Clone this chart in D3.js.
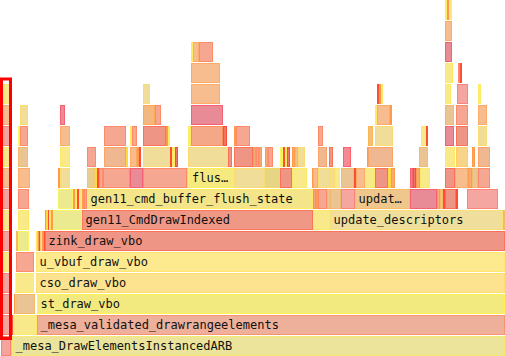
<!DOCTYPE html>
<html><head><meta charset="utf-8">
<script src="https://cdn.jsdelivr.net/npm/d3@7"></script>
<style>
html,body{margin:0;padding:0;background:#fff;overflow:hidden}
svg{display:block}
</style></head>
<body>
<svg id="chart" width="505" height="356"></svg>
<script>
// ---- data: frames per stack depth, [startSample, endSample, name] ----
const depth0 = [[1,11,""],[11,12,""],[12,505,"_mesa_DrawElementsInstancedARB"]];
const depth1 = [[1,11,""],[12,13,""],[13,37,""],[37,505,"_mesa_validated_drawrangeelements"]];
const depth2 = [[1,11,""],[14,15.5,""],[15.5,35,""],[37,505,"st_draw_vbo"]];
const depth3 = [[1,11,""],[15.5,34,""],[36,505,"cso_draw_vbo"]];
const depth4 = [[1,11,""],[16,34,""],[36,505,"u_vbuf_draw_vbo"]];
const depth5 = [[1,11,""],[16,18,""],[18,29,""],[36,37.5,""],[37.5,39,""],[39,40.5,""],[40.5,42,""],[42,43.5,""],[43.5,45,""],[45,505,"zink_draw_vbo"]];
const depth6 = [[1,11,""],[18,29,""],[45,46,""],[46,48,""],[48,49,""],[49,51,""],[51,53,""],[53,82,""],[82,313,"gen11_CmdDrawIndexed"],[313,330,""],[330,503,"update_descriptors"],[503,505,""]];
const depth7 = [[1,11,""],[18,29,""],[58,73,""],[73,75,""],[75,77,""],[77,79,""],[79,82,""],[82,84,""],[84,87,""],[87,313,"gen11_cmd_buffer_flush_state"],[313,316,""],[316,318,""],[318,327,""],[327,330,""],[330,341,""],[341,355,""],[355,410,"update_ubo_descriptors"],[410,437,""],[437,440,""],[440,443,""],[443,445,""],[445,456,""],[456,458,""],[467,498,""]];
const depth8 = [[1,11,""],[18,30,""],[58,60,""],[60,70,""],[87,95,""],[95,97,""],[97,99,""],[99,103,""],[103,130,""],[130,143,""],[143,187,""],[187,188.5,""],[188.5,234,"flush_descriptors"],[234,265,""],[265,280,""],[280,292,""],[292,307,""],[312,313,""],[313,318,""],[318,330,""],[330,335,""],[335,340,""],[341,354,""],[354,356,""],[356,365,""],[365,375,""],[375,388,""],[388,391,""],[391,395,""],[410,413,""],[413,416,""],[416,420,""],[420,430,""],[445,455,""],[455,468,""],[468,472,""],[472,478,""],[478,490,""]];
const depth9 = [[1,11,""],[18,28,""],[60,70,""],[87,96,""],[104,126,""],[126,128,""],[130,137,""],[137,139,""],[139,141,""],[143,170,""],[170,172,""],[172,175,""],[175,178,""],[188,228,""],[228,232,""],[234,253,""],[253,256,""],[256,259,""],[259,262,""],[265,268,""],[268,273,""],[280,283,""],[283,285,""],[285,287,""],[287,290,""],[292,295,""],[295,298,""],[298,305,""],[318,327,""],[329,333,""],[343,351,""],[367,368,""],[368,393,""],[419,428,""],[445,455,""],[456,468,""],[472,475,""],[478,490,""]];
const depth10 = [[1,11,""],[18,20,""],[20,28,""],[60,70,""],[104,126,""],[130,132,""],[132,137,""],[143,166,""],[166,168,""],[168,170,""],[188,191,""],[191,223,""],[223,227,""],[234,236,""],[236,250,""],[318,323,""],[368,373,""],[375,393,""],[421,426,""],[426,428,""],[445,454,""],[456,468,""],[478,487,""]];
const depth11 = [[1,11,""],[20,28,""],[60,65,""],[143,155,""],[155,161,""],[191,223,""],[375,377,""],[377,390,""],[390,392,""],[445,454,""],[456,468,""],[478,487,""]];
const depth12 = [[1,11,""],[143,150,""],[191,220,""],[377,379,""],[379,381,""],[381,383,""],[445,451,""],[457,468,""],[478,481,""]];
const depth13 = [[191,220,""],[445,453,""],[458,460,""],[460,462,""]];
const depth14 = [[191,193,""],[193,199,""],[199,213,""],[445,452,""]];
const depth15 = [[445,452,""]];
const depth16 = [[445,447,""],[447,449,""],[449,452,""]];
const depths = [depth0,depth1,depth2,depth3,depth4,depth5,depth6,depth7,depth8,depth9,depth10,depth11,depth12,depth13,depth14,depth15,depth16];
const sampleDomain = [0, 505];
const selectedFrame = {depthFrom: 1, depthTo: 12, start: 1, end: 11};

// ---- styles (kept separate from the data) ----
const palette = {
  Y:"#f8e98a", YG:"#ebea90", K:"#f0dd9a", KD:"#e6d584", KT:"#e8cd90", T:"#eac593", TS:"#efb890",
  TO:"#efc080", P:"#f8bd8e", P2:"#f5a888", PT:"#f2b880", S:"#f6a791", SR:"#ee9585", SP:"#f6a6a0",
  R:"#e98b97", RR:"#f58a92", O:"#f3ad78", RL:"#ee7564", YL:"#f5d869", YO:"#f8d488", PK:"#f4a49c"
};
const namedFill = {
  "_mesa_DrawElementsInstancedARB":"#ebe49a",
  "_mesa_validated_drawrangeelements":"#eeb09b",
  "st_draw_vbo":"#f2ea7e",
  "cso_draw_vbo":"#fde38f",
  "u_vbuf_draw_vbo":"#fdea8f",
  "zink_draw_vbo":"#ee9585",
  "gen11_CmdDrawIndexed":"#ef9886",
  "gen11_cmd_buffer_flush_state":"#f4e58a",
  "update_descriptors":"#f0df9c",
  "flush_descriptors":"#f5ea80",
  "update_ubo_descriptors":"#efc78c"
};
const fillCodes = [
  "PK YL -", "PK RL Y -", "PK O T -", "PK Y -", "Y S -",
  "PK T YG Y O RL Y O RL -",
  "Y Y O YL RL Y O YG - Y - T",
  "PK S YG O Y RL Y O S - S O S T T SP - R O T RL SR RL SP",
  "P P O K KT YL RL S S R S YL - K KD SR Y O P K K Y T RL P Y SR YL O R RL O Y SR P O T S",
  "Y T Y S TS YL P O RL K RL Y RL K SR SR O S O O S YG RL Y RL O T K TS SR RR O TS T Y YO O TS",
  "PK YG S P S Y S SR O Y Y P2 RL O S S TO K Y RL R SR K",
  "P K R PT S R Y P O T S P",
  "Y K P RL O Y Y SP Y",
  "P Y S RL",
  "Y P S R",
  "P",
  "Y O Y"
].map(s => s.split(" "));

const W = 505, H = 356, rowPitch = 21, baseTop = 335;
const svg = d3.select("#chart");
const x = d3.scaleLinear().domain(sampleDomain).range([0, W]);
const charW = 7.224;

const frames = [];
depths.forEach((arr, d) => arr.forEach((f, i) => {
  const code = fillCodes[d][i];
  frames.push({depth: d, start: f[0], end: f[1], name: f[2],
    fill: f[2] ? namedFill[f[2]] : palette[code]});
}));

function strokeOf(c) {
  const h = d3.hsl(c);
  h.s = Math.min(1, h.s + 0.2);
  h.l = h.l - 0.06;
  return h.formatHex();
}

const g = svg.selectAll("g.frame").data(frames).join("g").attr("class", "frame");
g.append("rect")
  .attr("x", d => x(d.start) + 0.5)
  .attr("y", d => baseTop - rowPitch * d.depth + 1.5)
  .attr("width", d => Math.max(0.01, x(d.end) - x(d.start) - 1))
  .attr("height", rowPitch - 2)
  .attr("fill", d => d.fill)
  .attr("stroke", d => strokeOf(d.fill))
  .attr("stroke-width", 1);

g.filter(d => d.name).append("text")
  .attr("x", d => x(d.start) + 3.5)
  .attr("y", d => baseTop - rowPitch * d.depth + 15)
  .attr("font-family", "'DejaVu Sans Mono', monospace")
  .attr("font-size", 12)
  .attr("fill", "#111")
  .text(d => {
    const w = x(d.end) - x(d.start);
    const maxChars = Math.floor((w - 6) / charW);
    if (maxChars >= d.name.length) return d.name;
    if (maxChars < 3) return "";
    return d.name.slice(0, maxChars - 1) + "\u2026";
  });

// highlighted (selected) frame column
svg.append("rect")
  .attr("x", x(selectedFrame.start) + 0.5)
  .attr("y", baseTop - rowPitch * selectedFrame.depthTo - 4)
  .attr("width", x(selectedFrame.end) - x(selectedFrame.start) - 1)
  .attr("height", rowPitch * (selectedFrame.depthTo - selectedFrame.depthFrom + 1) + 7.5)
  .attr("fill", "none")
  .attr("stroke", "#ff0000")
  .attr("stroke-width", 3);
</script>
</body></html>
